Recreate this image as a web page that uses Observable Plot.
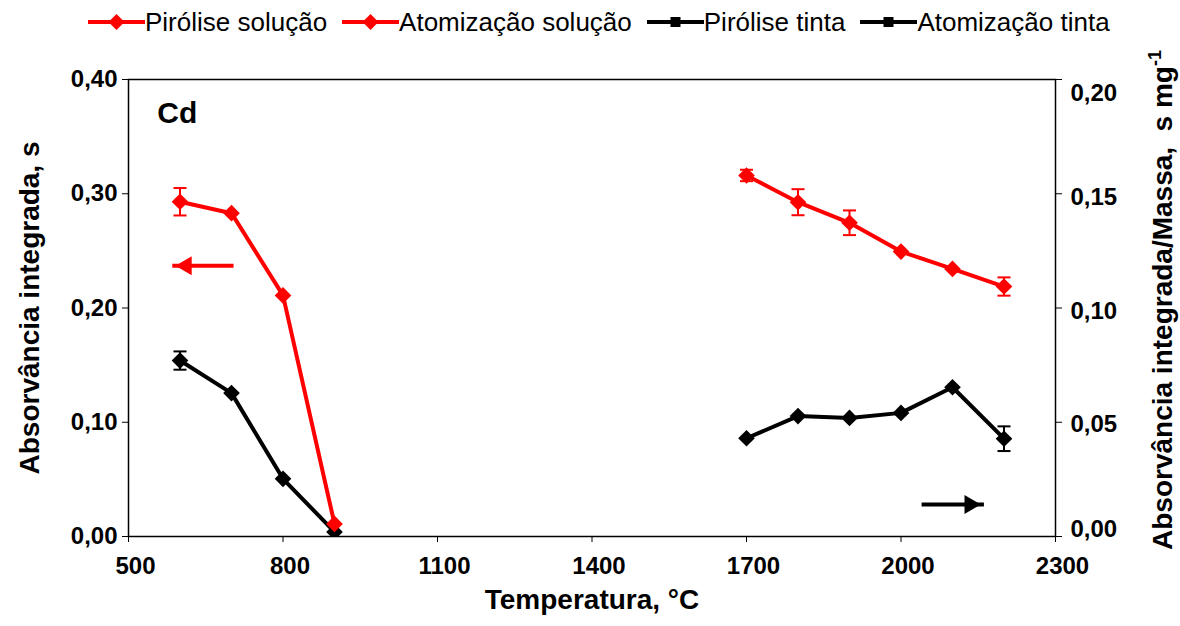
<!DOCTYPE html>
<html><head><meta charset="utf-8">
<script src="https://cdn.jsdelivr.net/npm/d3@7"></script>
<script src="https://cdn.jsdelivr.net/npm/@observablehq/plot@0.6"></script>
<style>
body{margin:0;background:#fff;}
#legend{height:44px;display:flex;align-items:center;padding-left:88px;gap:15px;font-family:"Liberation Sans",Arial,sans-serif;font-size:26px;color:#000;}
.item{display:flex;align-items:center;}
.item svg{display:block;}
#chart svg{overflow:visible;}
</style></head><body>
<div id="legend"></div><div id="chart"></div>
<script>
// ---- data ----
const tempsPirolise = [600, 700, 800, 900];
const pirSolucao    = [0.293, 0.283, 0.211, 0.011];
const pirSolucaoErr = [0.012, 0, 0, 0];
const pirTinta      = [0.154, 0.1255, 0.0505, 0.004];
const pirTintaErr   = [0.008, 0, 0, 0];

const tempsAtomizacao = [1700, 1800, 1900, 2000, 2100, 2200];
const atomSolucao     = [0.158, 0.1463, 0.1373, 0.1247, 0.1171, 0.1094];
const atomSolucaoErr  = [0.0025, 0.0057, 0.0054, 0, 0, 0.0040];
const atomTinta       = [0.043, 0.0527, 0.0519, 0.0541, 0.0653, 0.0428];
const atomTintaErr    = [0, 0, 0, 0, 0, 0.0054];

const xTicks = [500, 800, 1100, 1400, 1700, 2000, 2300];
const yLeftTicks = [0, 0.1, 0.2, 0.3, 0.4];
const yRightTicks = [0, 0.05, 0.10, 0.15, 0.20];
const yLeftMax = 0.40, yRightMax = 0.20;
const rightToLeft = yLeftMax / yRightMax;

// annotations (data units)
const arrowLeft  = {x1: 704, x2: 585, y: 0.237, axis: "left", color: "#ff0000"};
const arrowRight = {x1: 2040, x2: 2161, y: 0.014, axis: "right", color: "#000000"};
const panelLabel = {x: 556, y: 0.370, text: "Cd"};

const series = [
  {name: "Pirólise tinta", color: "#000000", axis: "left", x: tempsPirolise, y: pirTinta, err: pirTintaErr, legendSymbol: "square"},
  {name: "Atomização tinta", color: "#000000", axis: "right", x: tempsAtomizacao, y: atomTinta, err: atomTintaErr, legendSymbol: "square"},
  {name: "Pirólise solução", color: "#ff0000", axis: "left", x: tempsPirolise, y: pirSolucao, err: pirSolucaoErr, legendSymbol: "diamond"},
  {name: "Atomização solução", color: "#ff0000", axis: "right", x: tempsAtomizacao, y: atomSolucao, err: atomSolucaoErr, legendSymbol: "diamond"}
];
const legendOrder = ["Pirólise solução", "Atomização solução", "Pirólise tinta", "Atomização tinta"];

const k = s => s.axis === "right" ? rightToLeft : 1;
const rows = series.flatMap(s => s.x.map((x, i) => ({series: s.name, color: s.color, x, y: s.y[i] * k(s), err: s.err[i] * k(s)})));
const errRows = rows.filter(d => d.err > 0);
const capTop = errRows.map(d => ({...d, yc: d.y + d.err}));
const capBot = errRows.map(d => ({...d, yc: d.y - d.err}));
const arrows = [arrowLeft, arrowRight].map(a => ({...a, y: a.axis === "right" ? a.y * rightToLeft : a.y}));
const arrowsL = arrows.filter(a => a.x2 < a.x1);
const arrowsR = arrows.filter(a => a.x2 >= a.x1);

const fmt = v => d3.format(".2f")(v).replace(".", ",");
const blank = () => "";
const hline = {draw(ctx, size) { const r = 6.5; ctx.moveTo(-r, 0); ctx.lineTo(r, 0); }};
// small vertical nudges of the right tick labels, as laid out in the reference (pixels)
const rightLabelNudge = [-7, 2, 3, 4, 14];

const chart = Plot.plot({
  width: 1180, height: 582,
  marginTop: 35, marginBottom: 90, marginLeft: 128, marginRight: 125,
  style: {fontFamily: "'Liberation Sans', Arial, sans-serif", fontSize: "24px", fontWeight: "bold", color: "#000", background: "#fff"},
  x: {domain: [500, 2300]},
  y: {domain: [0, yLeftMax]},
  marks: [
    Plot.frame({stroke: "#000", strokeWidth: 1.5}),
    // x axis: tick marks, offset tick labels, title
    Plot.axisX({ticks: xTicks, tickFormat: blank, tickSize: 6, label: null}),
    Plot.axisX({ticks: xTicks, tickFormat: d => String(d), tickSize: 0, tickPadding: 20, dx: 7, label: null}),
    Plot.axisX({ticks: [], label: "Temperatura, °C", labelAnchor: "center", labelOffset: 72, labelArrow: "none"}),
    // left y axis
    Plot.axisY({anchor: "left", ticks: yLeftTicks, tickFormat: fmt, tickSize: 6, tickPadding: 5, label: "Absorvância integrada, s", labelAnchor: "center", labelOffset: 109, labelArrow: "none"}),
    // right y axis (values on the right scale = left / rightToLeft)
    Plot.axisY({anchor: "right", ticks: yRightTicks.map(v => v * rightToLeft), tickFormat: blank, tickSize: 6, label: null}),
    ...yRightTicks.map((v, i) => Plot.axisY({anchor: "right", ticks: [v * rightToLeft], tickFormat: d => fmt(d / rightToLeft), tickSize: 0, tickPadding: 15, dy: rightLabelNudge[i], label: null})),
    Plot.ruleX(errRows, {x: "x", y1: d => d.y - d.err, y2: d => d.y + d.err, stroke: "color", strokeWidth: 2}),
    Plot.dot(capTop, {x: "x", y: "yc", symbol: hline, stroke: "color", strokeWidth: 2, r: 5}),
    Plot.dot(capBot, {x: "x", y: "yc", symbol: hline, stroke: "color", strokeWidth: 2, r: 5}),
    ...series.map(s => [
      Plot.line(rows.filter(d => d.series === s.name), {x: "x", y: "y", stroke: "color", strokeWidth: 4}),
      Plot.dot(rows.filter(d => d.series === s.name), {x: "x", y: "y", symbol: "diamond2", r: 7.5, fill: "color", stroke: "none", clip: true})
    ]).flat(),
    Plot.link(arrows, {x1: "x1", x2: "x2", y1: "y", y2: "y", stroke: "color", strokeWidth: 4}),
    Plot.dot(arrowsL, {x: "x2", y: "y", symbol: "triangle2", r: 9, fill: "color", stroke: "none", rotate: -90, dx: 14}),
    Plot.dot(arrowsR, {x: "x2", y: "y", symbol: "triangle2", r: 9, fill: "color", stroke: "none", rotate: 90, dx: -14}),
    Plot.text([panelLabel], {x: "x", y: "y", text: "text", textAnchor: "start", fontSize: 30, fontWeight: "bold", fill: "#000"})
  ]
});
document.getElementById("chart").appendChild(chart);

const svg = d3.select(chart);
svg.selectAll('[aria-label="x-axis label"] text, [aria-label="y-axis label"] text').style("font-size", "28px");
// right axis label with superscript
const rl = svg.append("text")
  .attr("transform", "translate(1162,256) rotate(-90)")
  .attr("text-anchor", "middle").attr("dy", "0.35em")
  .style("font-size", "28px").style("font-weight", "bold").attr("fill", "#000");
rl.append("tspan").text("Absorvância integrada/Massa,  s mg");
rl.append("tspan").text("-1").attr("dy", "-0.6em").style("font-size", "18px");

// legend
const leg = d3.select("#legend");
for (const name of legendOrder) {
  const s = series.find(d => d.name === name);
  const it = leg.append("div").attr("class", "item");
  const sw = it.append("svg").attr("width", 57).attr("height", 20);
  sw.append("line").attr("x1", 0).attr("x2", 57).attr("y1", 10).attr("y2", 10).attr("stroke", s.color).attr("stroke-width", 4);
  if (s.legendSymbol === "diamond") sw.append("path").attr("d", "M28.5,2L36.5,10L28.5,18L20.5,10Z").attr("fill", s.color);
  else sw.append("rect").attr("x", 23.5).attr("y", 5).attr("width", 10).attr("height", 10).attr("fill", s.color);
  it.append("span").text(name);
}
</script>
</body></html>
